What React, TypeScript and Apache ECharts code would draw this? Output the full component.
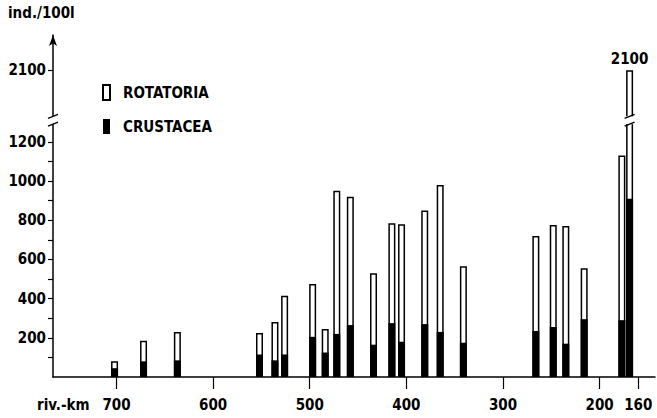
import React, { useEffect, useRef } from "react";
import * as echarts from "echarts";

// river-km of each sampling station
const stationKm = [702, 672, 637, 552, 536, 526, 497, 484, 472, 458, 434, 415, 405, 381, 365, 341, 266, 248, 235, 216, 177, 169];
// total zooplankton density (ind./100 l) = Rotatoria + Crustacea
const totalDensity = [80, 185, 230, 225, 280, 415, 475, 245, 950, 920, 530, 785, 780, 850, 980, 565, 720, 775, 770, 555, 1130, 2100];
// Crustacea part (black, bottom)
const crustaceaDensity = [45, 80, 85, 115, 85, 115, 205, 125, 220, 265, 165, 275, 180, 270, 230, 175, 235, 255, 170, 295, 290, 910];

const xTickValues = [700, 600, 500, 400, 300, 200, 160];
const yTickValues = [100, 200, 300, 400, 500, 600, 700, 800, 900, 1000, 1100, 1200, 2100];
const yLabelValues = [200, 400, 600, 800, 1000, 1200, 2100];

const FONT = "'DejaVu Sans Condensed', 'DejaVu Sans', sans-serif";

export default function App() {
  const ref = useRef<HTMLDivElement>(null);

  useEffect(() => {
    const chart = echarts.init(ref.current!, null, { renderer: "svg" });
    const maxIdx = totalDensity.indexOf(Math.max(...totalDensity));

    const crustData = stationKm.map((km, i) => [km, crustaceaDensity[i]]);
    const totalData = stationKm.map((km, i) =>
      i === maxIdx
        ? {
            value: [km, totalDensity[i]],
            label: {
              show: true,
              position: "top",
              distance: 4,
              formatter: String(totalDensity[i]),
              color: "#000",
              fontSize: 15,
              fontWeight: "bold",
              fontFamily: FONT,
            },
          }
        : [km, totalDensity[i]]
    );

    const option: any = {
      animation: false,
      backgroundColor: "#fff",
      title: [
        {
          text: "ind./100l",
          left: 8,
          top: 5,
          padding: 0,
          textStyle: { fontSize: 15, fontWeight: "bold", fontFamily: FONT, color: "#000" },
        },
        {
          text: "riv.-km",
          left: 37,
          top: 397,
          padding: 0,
          textStyle: { fontSize: 15, fontWeight: "bold", fontFamily: FONT, color: "#000" },
        },
      ],
      legend: {
        orient: "vertical",
        left: 102,
        top: 84,
        padding: 0,
        itemWidth: 7,
        itemHeight: 15,
        itemGap: 18,
        icon: "rect",
        data: ["ROTATORIA", "CRUSTACEA"],
        textStyle: {
          fontSize: 15,
          fontWeight: "bold",
          fontFamily: FONT,
          color: "#000",
          padding: [0, 0, 0, 8],
        },
      },
      grid: { left: 53, right: 2, top: 35, bottom: 41, containLabel: false },
      xAxis: {
        type: "value",
        inverse: true,
        min: 142.7,
        max: 765.7,
        splitLine: { show: false },
        axisLine: { show: true, lineStyle: { color: "#000", width: 1.5 } },
        axisTick: {
          show: true,
          customValues: xTickValues,
          length: 12,
          lineStyle: { color: "#000", width: 1.2 },
        },
        axisLabel: {
          customValues: xTickValues,
          margin: 20,
          color: "#000",
          fontSize: 15,
          fontWeight: "bold",
          fontFamily: FONT,
          formatter: (v: number) => String(v),
        },
      },
      yAxis: {
        type: "value",
        min: 0,
        max: 2280,
        breaks: [{ start: 1290, end: 1865, gap: 40 }],
        breakArea: {
          show: false,
          expandOnClick: false,
        },
        splitLine: { show: false },
        axisLine: {
          show: true,
          symbol: ["none", "arrow"],
          symbolSize: [6, 11],
          lineStyle: { color: "#000", width: 1.5 },
        },
        axisTick: {
          show: true,
          customValues: yTickValues,
          length: 5,
          lineStyle: { color: "#000", width: 1.2 },
        },
        axisLabel: {
          customValues: yLabelValues,
          margin: 7,
          color: "#000",
          fontSize: 15,
          fontWeight: "bold",
          fontFamily: FONT,
          formatter: (v: number) => String(v),
        },
      },
      series: [
        {
          name: "ROTATORIA",
          type: "bar",
          barWidth: 7,
          barGap: "-100%",
          data: totalData,
          itemStyle: { color: "#fff", borderColor: "#000", borderWidth: 1.5 },
        },
        {
          name: "CRUSTACEA",
          type: "bar",
          barWidth: 7,
          barGap: "-100%",
          data: crustData,
          itemStyle: { color: "#000", borderColor: "#000", borderWidth: 0 },
        },
      ],
    };

    chart.setOption(option);

    // break gaps and marks on the y-axis and on the tallest bar
    const breakDef = option.yAxis.breaks[0];
    const yLow = chart.convertToPixel({ yAxisIndex: 0 }, breakDef.start) as number;
    const yHigh = chart.convertToPixel({ yAxisIndex: 0 }, breakDef.end) as number;
    const axisX = chart.convertToPixel({ xAxisIndex: 0 }, option.xAxis.max) as number;
    const barX = chart.convertToPixel({ xAxisIndex: 0 }, stationKm[maxIdx]) as number;
    const top = Math.min(yLow, yHigh);
    const h = Math.abs(yLow - yHigh);
    const marks: any[] = [];
    [axisX, barX].forEach((cx) => {
      marks.push({
        type: "rect",
        shape: { x: cx - 5, y: top, width: 10, height: h },
        style: { fill: "#fff" },
        z: 90,
      });
      [yLow, yHigh].forEach((cy) => {
        marks.push({
          type: "line",
          shape: { x1: cx - 5, y1: cy + 2, x2: cx + 5, y2: cy - 2 },
          style: { stroke: "#000", lineWidth: 1.5 },
          z: 100,
        });
      });
    });
    chart.setOption({ graphic: marks });

    return () => chart.dispose();
  }, []);

  return (
    <div
      ref={ref}
      style={{ position: "fixed", left: 0, top: 0, width: 657, height: 418, background: "#fff" }}
    />
  );
}
